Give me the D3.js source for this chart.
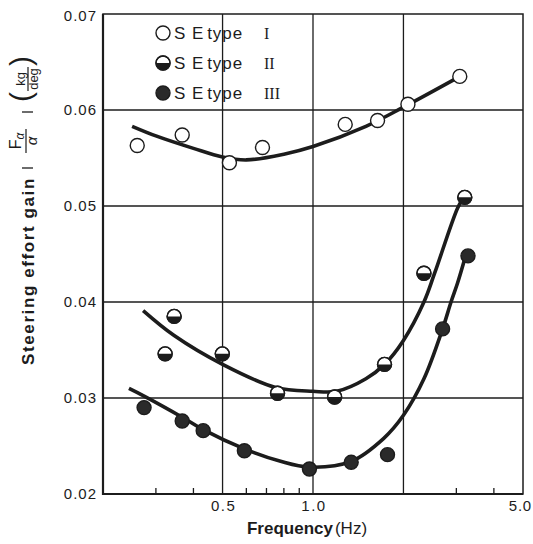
<!DOCTYPE html>
<html>
<head>
<meta charset="utf-8">
<script src="https://cdn.jsdelivr.net/npm/d3@7"></script>
<style>
  body { margin: 0; background: #fff; }
  svg { display: block; }
</style>
</head>
<body>
<div id="chart"></div>
<script>
const freqI = [0.26, 0.367, 0.527, 0.679, 1.28, 1.64, 2.07, 3.08];
const gainI = [0.0563, 0.0574, 0.0545, 0.0561, 0.0585, 0.0589, 0.0606, 0.0635];

const freqII = [0.322, 0.345, 0.499, 0.762, 1.18, 1.73, 2.34, 3.2];
const gainII = [0.0346, 0.0385, 0.0346, 0.0305, 0.0301, 0.0335, 0.0430, 0.0509];

const freqIII = [0.274, 0.367, 0.431, 0.591, 0.973, 1.34, 1.77, 2.70, 3.28];
const gainIII = [0.0290, 0.0276, 0.0266, 0.0245, 0.0226, 0.0233, 0.0241, 0.0372, 0.0448];

// fitted curves as drawn in the figure
const curveFreqI = [0.25, 0.3, 0.4, 0.5, 0.6, 0.8, 1.0, 1.5, 2.0, 3.0];
const curveGainI = [0.0583, 0.0573, 0.0560, 0.0551, 0.0548, 0.0554, 0.0562, 0.0583, 0.0603, 0.0633];

const curveFreqII = [0.272, 0.345, 0.5, 0.75, 1.0, 1.2, 1.5, 1.73, 2.0, 2.34, 2.54, 3.03, 3.15];
const curveGainII = [0.0391, 0.0365, 0.0335, 0.0311, 0.0307, 0.0307, 0.0320, 0.0335, 0.0360, 0.0400, 0.0430, 0.0498, 0.0507];

const curveFreqIII = [0.244, 0.274, 0.367, 0.431, 0.591, 0.78, 0.97, 1.34, 1.72, 2.0, 2.34, 2.70, 2.88, 3.03, 3.2];
const curveGainIII = [0.0310, 0.0302, 0.0280, 0.0267, 0.0247, 0.0234, 0.0228, 0.0234, 0.0258, 0.0282, 0.0320, 0.0372, 0.0400, 0.0420, 0.0445];

const yTicks = [0.02, 0.03, 0.04, 0.05, 0.06, 0.07];
const xGrid = [0.5, 1.0, 2.0];
const xLabels = [0.5, 1.0, 5.0];
const xMinor = [0.3, 0.4, 0.6, 0.7, 0.8, 0.9, 3, 4];
const legendNames = [["S E", "type"], ["S E", "type"], ["S E", "type"]];
const legendNums = ["I", "II", "III"];

const width = 533, height = 544;
const margin = { left: 103, right: 10, top: 14, bottom: 50 };
const ink = "#1c1c1c";
const font = "Liberation Sans, Arial, sans-serif";

const svg = d3.select("#chart").append("svg")
    .attr("width", width)
    .attr("height", height);

const x = d3.scaleLog().domain([0.2, 5]).range([margin.left, width - margin.right]);
const y = d3.scaleLinear().domain([0.02, 0.07]).range([height - margin.bottom, margin.top]);

// grid
svg.append("g").selectAll("line").data(yTicks.slice(1, -1)).join("line")
    .attr("x1", x.range()[0]).attr("x2", x.range()[1])
    .attr("y1", d => y(d)).attr("y2", d => y(d))
    .attr("stroke", ink).attr("stroke-width", 1.3);

svg.append("g").selectAll("line").data(xGrid).join("line")
    .attr("x1", d => x(d)).attr("x2", d => x(d))
    .attr("y1", y.range()[0]).attr("y2", y.range()[1])
    .attr("stroke", ink).attr("stroke-width", 1.3);

// frame
svg.append("rect")
    .attr("x", x.range()[0]).attr("y", y.range()[1])
    .attr("width", x.range()[1] - x.range()[0])
    .attr("height", y.range()[0] - y.range()[1])
    .attr("fill", "none").attr("stroke", ink).attr("stroke-width", 1.5);
svg.append("path")
    .attr("d", `M${x.range()[0]},${y.range()[1]}V${y.range()[0]}H${x.range()[1]}`)
    .attr("fill", "none").attr("stroke", ink).attr("stroke-width", 2.2);

// minor ticks along the bottom, pointing up
svg.append("g").selectAll("line").data(xMinor).join("line")
    .attr("x1", d => x(d)).attr("x2", d => x(d))
    .attr("y1", y.range()[0]).attr("y2", y.range()[0] - 6)
    .attr("stroke", ink).attr("stroke-width", 1.3);

// tick labels
svg.append("g").selectAll("text").data(yTicks).join("text")
    .attr("x", margin.left - 6)
    .attr("y", d => y(d) + (d === 0.07 ? 2 : 0))
    .attr("dy", "0.36em")
    .attr("text-anchor", "end")
    .attr("font-family", font)
    .attr("font-size", 15)
    .attr("letter-spacing", 1)
    .attr("fill", ink)
    .text(d => d.toFixed(2));

svg.append("g").selectAll("text").data(xLabels).join("text")
    .attr("x", (d, i) => i === xLabels.length - 1 ? width - 1 : x(d) + 1)
    .attr("y", 511)
    .attr("text-anchor", (d, i) => i === xLabels.length - 1 ? "end" : "middle")
    .attr("font-family", font)
    .attr("font-size", 15)
    .attr("letter-spacing", (d, i) => i === xLabels.length - 1 ? 0.8 : 1.5)
    .attr("fill", ink)
    .text(d => d.toFixed(1));

// x title
const xt = svg.append("text")
    .attr("x", 307).attr("y", 534)
    .attr("text-anchor", "middle")
    .attr("font-family", font)
    .attr("fill", ink);
xt.append("tspan").attr("font-weight", "bold").attr("font-size", 17).text("Frequency");
xt.append("tspan").attr("font-size", 17).attr("dx", 2).text("(Hz)");

// y title, rotated pieces
svg.append("text")
    .attr("transform", "translate(34,271) rotate(-90)")
    .attr("text-anchor", "middle")
    .attr("font-family", font).attr("font-weight", "bold")
    .attr("font-size", 17).attr("letter-spacing", 1.6)
    .attr("fill", ink)
    .text("Steering effort gain");

[168, 112].forEach(py => {
  svg.append("line")
      .attr("x1", 22).attr("x2", 33).attr("y1", py).attr("y2", py)
      .attr("stroke", ink).attr("stroke-width", 1.3);
});

// F_alpha / alpha
const num = svg.append("text")
    .attr("transform", "translate(21,141) rotate(-90)")
    .attr("text-anchor", "middle")
    .attr("font-family", font).attr("font-size", 16).attr("fill", ink);
num.append("tspan").text("F");
num.append("tspan").attr("font-size", 12).attr("font-style", "italic").attr("dy", 3).text("α");
svg.append("line")
    .attr("x1", 26).attr("x2", 26).attr("y1", 129).attr("y2", 153)
    .attr("stroke", ink).attr("stroke-width", 1.2);
svg.append("text")
    .attr("transform", "translate(37,141) rotate(-90)")
    .attr("text-anchor", "middle")
    .attr("font-family", font).attr("font-size", 15).attr("font-style", "italic")
    .attr("fill", ink).text("α");

// (kg / deg)
svg.append("text")
    .attr("transform", "translate(25,79) rotate(-90)")
    .attr("text-anchor", "middle")
    .attr("font-family", font).attr("font-size", 13).attr("fill", ink).text("kg");
svg.append("line")
    .attr("x1", 28).attr("x2", 28).attr("y1", 67).attr("y2", 91)
    .attr("stroke", ink).attr("stroke-width", 1.2);
svg.append("text")
    .attr("transform", "translate(38,79) rotate(-90)")
    .attr("text-anchor", "middle")
    .attr("font-family", font).attr("font-size", 13).attr("fill", ink).text("deg");
[["(", 97], [")", 61]].forEach(([ch, py]) => {
  svg.append("text")
      .attr("transform", `translate(31,${py}) rotate(-90)`)
      .attr("text-anchor", "middle")
      .attr("font-family", font).attr("font-size", 30).attr("font-weight", 300)
      .attr("fill", ink).text(ch);
});

// curves
const line = d3.line()
    .x(d => x(d[0]))
    .y(d => y(d[1]))
    .curve(d3.curveCatmullRom.alpha(0.5));

[[curveFreqI, curveGainI], [curveFreqII, curveGainII], [curveFreqIII, curveGainIII]].forEach(([f, g]) => {
  svg.append("path")
      .attr("d", line(d3.zip(f, g)))
      .attr("fill", "none")
      .attr("stroke", ink)
      .attr("stroke-width", 3.6)
      .attr("stroke-linecap", "butt");
});

// markers
const r = 7;
const lowerHalf = d3.arc()({ innerRadius: 0, outerRadius: r, startAngle: Math.PI / 2, endAngle: 3 * Math.PI / 2 });

function marker(g, kind) {
  if (kind === 2) {
    g.append("circle").attr("r", r).attr("fill", "#2a2a2a").attr("stroke", ink).attr("stroke-width", 1.4);
    return;
  }
  g.append("circle").attr("r", r).attr("fill", "#fff").attr("stroke", ink).attr("stroke-width", 1.4);
  if (kind === 1) {
    g.append("path").attr("d", lowerHalf).attr("fill", ink);
    g.append("circle").attr("r", r).attr("fill", "none").attr("stroke", ink).attr("stroke-width", 1.4);
  }
}

[[freqI, gainI], [freqII, gainII], [freqIII, gainIII]].forEach(([f, g], k) => {
  d3.zip(f, g).forEach(p => {
    marker(svg.append("g").attr("transform", `translate(${x(p[0])},${y(p[1])})`), k);
  });
});

// legend
legendNames.forEach((name, i) => {
  const cy = 33 + i * 30;
  marker(svg.append("g").attr("transform", `translate(163,${cy})`), i);
  const t = svg.append("text")
      .attr("x", 174).attr("y", cy + 6)
      .attr("font-family", font).attr("font-size", 17).attr("letter-spacing", 1)
      .attr("fill", ink);
  t.append("tspan").text(name[0] + " ");
  t.append("tspan").attr("dx", -3).text(name[1]);
  svg.append("text")
      .attr("x", 264).attr("y", cy + 6)
      .attr("font-family", "Liberation Serif, Times New Roman, serif").attr("font-size", 16)
      .attr("fill", ink).text(legendNums[i]);
});
</script>
</body>
</html>
